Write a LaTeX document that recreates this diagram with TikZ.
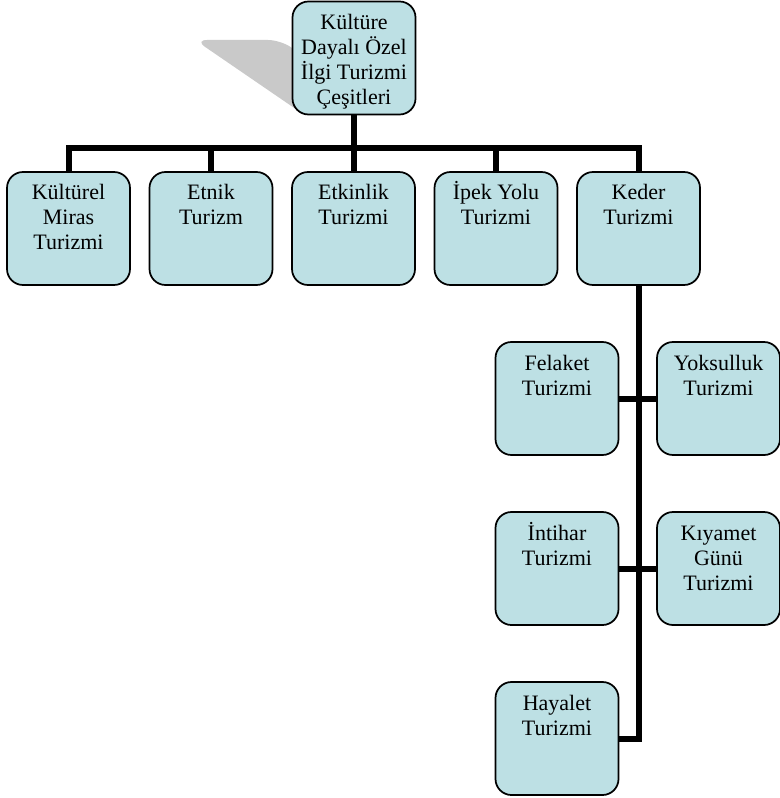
\documentclass[tikz,border=0pt]{standalone}
\usepackage{fontspec}
\setmainfont{Liberation Serif}
\usepackage{xcolor}
\usepackage{tikz}
\definecolor{Tile}{HTML}{BDE0E4}
\definecolor{Shade}{HTML}{C9C9C9}
\newcommand{\tiletext}[1]{\parbox[c][84.75pt][t]{92.25pt}{\centering\fontsize{16.5pt}{18.75pt}\selectfont\rule{0pt}{21pt}#1}}
\tikzset{
  tile/.style={
    draw=black, fill=Tile, line width=1.3pt, rounded corners=12pt,
    inner sep=0pt, minimum width=92.25pt, minimum height=84.75pt
  },
  bar/.style={line width=4.5pt,draw=black},
  shade/.style={fill=Shade,rounded corners=9pt}
}

\begin{document}
\begin{tikzpicture}[x=0.75pt,y=-0.75pt]
  \useasboundingbox (0,0) rectangle (779,798);
  \fill[shade] (195,40) -- (280,40) -- (392,114) -- (303,114) -- cycle;
  \node[tile] (top) at (354,58) {\tiletext{Kültüre\\Dayalı Özel\\İlgi Turizmi\\Çeşitleri}};
  \node[tile] (kul) at (68.5,228.5) {\tiletext{Kültürel\\Miras\\Turizmi}};
  \node[tile] (etn) at (211,228.5) {\tiletext{Etnik\\Turizm}};
  \node[tile] (etk) at (353.5,228.5) {\tiletext{Etkinlik\\Turizmi}};
  \node[tile] (ipk) at (496,228.5) {\tiletext{İpek Yolu\\Turizmi}};
  \node[tile] (ked) at (638.5,228.5) {\tiletext{Keder\\Turizmi}};
  \node[tile] (fel) at (557,398.5) {\tiletext{Felaket\\Turizmi}};
  \node[tile] (yok) at (718.5,398.5) {\tiletext{Yoksulluk\\Turizmi}};
  \node[tile] (int) at (557,568.5) {\tiletext{İntihar\\Turizmi}};
  \node[tile] (kiy) at (718.5,568.5) {\tiletext{Kıyamet\\Günü\\Turizmi}};
  \node[tile] (hay) at (557,738.5) {\tiletext{Hayalet\\Turizmi}};
  \coordinate (bus) at (354,148);
  \foreach \n in {kul,etn,etk,ipk,ked}
    \draw[bar] (top.south) |- (bus) -| (\n.north);
  \draw[bar] (ked.south) |- (hay.east);
  \draw[bar] (fel.east) -- (yok.west);
  \draw[bar] (int.east) -- (kiy.west);
\end{tikzpicture}
\end{document}
